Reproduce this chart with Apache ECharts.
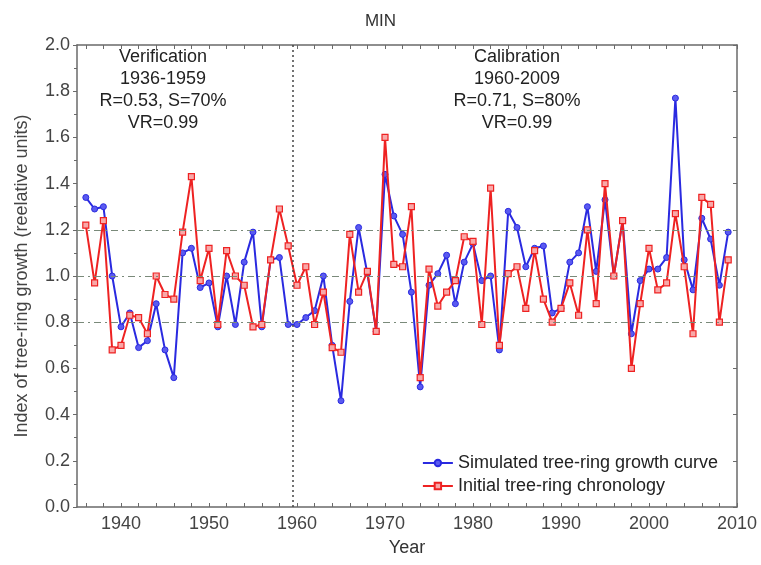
<!DOCTYPE html>
<html>
<head>
<meta charset="utf-8">
<script src="https://cdn.jsdelivr.net/npm/echarts@6/dist/echarts.min.js"></script>
<style>html,body{margin:0;padding:0;background:#fff;}#c{width:761px;height:565px;}</style>
</head>
<body>
<div id="c"></div>
<script>
var years = [];
for (var y = 1936; y <= 2009; y++) years.push(y);

var simulated = [
  1.34, 1.29, 1.30, 1.00, 0.78, 0.84, 0.69, 0.72, 0.88, 0.68,
  0.56, 1.10, 1.12, 0.95, 0.97, 0.78, 1.00, 0.79, 1.06, 1.19,
  0.78, 1.07, 1.08, 0.79,
  0.79, 0.82, 0.85, 1.00, 0.70, 0.46, 0.89, 1.21, 1.01, 0.76,
  1.44, 1.26, 1.18, 0.93, 0.52, 0.96, 1.01, 1.09, 0.88, 1.06,
  1.14, 0.98, 1.00, 0.68, 1.28, 1.21, 1.04, 1.12, 1.13, 0.84,
  0.86, 1.06, 1.10, 1.30, 1.02, 1.33, 1.00, 1.24, 0.75, 0.98,
  1.03, 1.03, 1.08, 1.77, 1.07, 0.94, 1.25, 1.16, 0.96, 1.19
];
var initial = [
  1.22, 0.97, 1.24, 0.68, 0.70, 0.83, 0.82, 0.75, 1.00, 0.92,
  0.90, 1.19, 1.43, 0.98, 1.12, 0.79, 1.11, 1.00, 0.96, 0.78,
  0.79, 1.07, 1.29, 1.13,
  0.96, 1.04, 0.79, 0.93, 0.69, 0.67, 1.18, 0.93, 1.02, 0.76,
  1.60, 1.05, 1.04, 1.30, 0.56, 1.03, 0.87, 0.93, 0.98, 1.17,
  1.15, 0.79, 1.38, 0.70, 1.01, 1.04, 0.86, 1.11, 0.90, 0.80,
  0.86, 0.97, 0.83, 1.20, 0.88, 1.40, 1.00, 1.24, 0.60, 0.88,
  1.12, 0.94, 0.97, 1.27, 1.04, 0.75, 1.34, 1.31, 0.80, 1.07
];
var xLabels = [1940, 1950, 1960, 1970, 1980, 1990, 2000, 2010];
var yLevels = [0.8, 1.0, 1.2];
var splitYear = 1959.5;
var verificationText = ['Verification', '1936-1959', 'R=0.53, S=70%', 'VR=0.99'];
var calibrationText = ['Calibration', '1960-2009', 'R=0.71, S=80%', 'VR=0.99'];

var xTicks = [];
for (var t = 1936; t <= 2010; t += 2) xTicks.push(t);

function pairs(vals) { return years.map(function (yr, i) { return [yr, vals[i]]; }); }

var FONT = 'Liberation Sans';
var chart = echarts.init(document.getElementById('c'), null, { renderer: 'canvas' });
var axisCol = '#6a6a6a';

chart.setOption({
  backgroundColor: '#fff',
  animation: false,
  textStyle: { fontFamily: FONT },
  title: { text: 'MIN', left: 'center', top: 8, textStyle: { fontFamily: FONT, fontSize: 17, fontWeight: 'normal', color: '#333' } },
  grid: { left: 77, right: 24, top: 45, bottom: 58 },
  legend: {
    orient: 'vertical', right: 38, top: 449, itemWidth: 30, itemHeight: 8, itemGap: 5,
    textStyle: { fontFamily: FONT, fontSize: 18, color: '#222' },
    data: ['Simulated tree-ring growth curve', 'Initial tree-ring chronology']
  },
  xAxis: [{
    type: 'value', min: 1935, max: 2010, interval: 5,
    name: 'Year', nameLocation: 'middle', nameGap: 32,
    nameTextStyle: { fontFamily: FONT, fontSize: 18, color: '#333' },
    axisLine: { show: true, onZero: false, lineStyle: { color: axisCol, width: 1.5 } },
    axisTick: { show: true, inside: true, length: 4, customValues: xTicks, lineStyle: { color: axisCol } },
    axisLabel: { customValues: xLabels, fontFamily: FONT, fontSize: 18, color: '#444', margin: 8, formatter: function (v) { return String(v); } },
    splitLine: { show: false }
  }, {
    type: 'value', min: 1935, max: 2010, interval: 5, position: 'top',
    axisLine: { show: true, onZero: false, lineStyle: { color: axisCol, width: 1.5 } },
    axisTick: { show: true, inside: true, length: 4, customValues: xTicks, lineStyle: { color: axisCol } },
    axisLabel: { show: false }, splitLine: { show: false }
  }],
  yAxis: [{
    type: 'value', min: 0, max: 2, interval: 0.2,
    name: 'Index of tree-ring growth (reelative units)', nameLocation: 'middle', nameGap: 46,
    nameTextStyle: { fontFamily: FONT, fontSize: 18, color: '#444' },
    axisLine: { show: true, onZero: false, lineStyle: { color: axisCol, width: 1.5 } },
    axisTick: { show: true, inside: false, length: 4, lineStyle: { color: axisCol } },
    minorTick: { show: true, splitNumber: 2, length: 3, lineStyle: { color: axisCol } },
    axisLabel: { fontFamily: FONT, fontSize: 18, color: '#444', margin: 7, formatter: function (v) { return v.toFixed(1); } },
    splitLine: { show: false }
  }, {
    type: 'value', min: 0, max: 2, interval: 0.2, position: 'right',
    axisLine: { show: true, onZero: false, lineStyle: { color: axisCol, width: 1.5 } },
    axisTick: { show: true, inside: true, length: 4, lineStyle: { color: axisCol } },
    minorTick: { show: false },
    axisLabel: { show: false }, splitLine: { show: false }
  }],
  graphic: [
    { type: 'text', x: 163, y: 46, style: { text: verificationText.join('\n'), align: 'center', verticalAlign: 'top', fontFamily: FONT, fontSize: 18, lineHeight: 22, fill: '#222' } },
    { type: 'text', x: 517, y: 46, style: { text: calibrationText.join('\n'), align: 'center', verticalAlign: 'top', fontFamily: FONT, fontSize: 18, lineHeight: 22, fill: '#222' } }
  ],
  series: [{
    name: 'Simulated tree-ring growth curve', type: 'line', data: pairs(simulated),
    symbol: 'circle', symbolSize: 6, showSymbol: true,
    lineStyle: { color: '#2a2ae0', width: 2 },
    itemStyle: { color: '#5a5af0', borderColor: '#2a2ae0', borderWidth: 1 },
    z: 3,
    markLine: {
      silent: true, symbol: 'none', label: { show: false },
      data: yLevels.map(function (v) { return { yAxis: v, lineStyle: { color: '#7a8a7a', width: 1.2, type: [7, 4, 2, 4] } }; })
        .concat([{ xAxis: splitYear, lineStyle: { color: '#444', width: 1.5, type: [2, 3] } }])
    }
  }, {
    name: 'Initial tree-ring chronology', type: 'line', data: pairs(initial),
    symbol: 'rect', symbolSize: 6, showSymbol: true,
    lineStyle: { color: '#ee2222', width: 2 },
    itemStyle: { color: '#f8a8a8', borderColor: '#ee2222', borderWidth: 1.2 },
    z: 4
  }]
});
</script>
</body>
</html>
